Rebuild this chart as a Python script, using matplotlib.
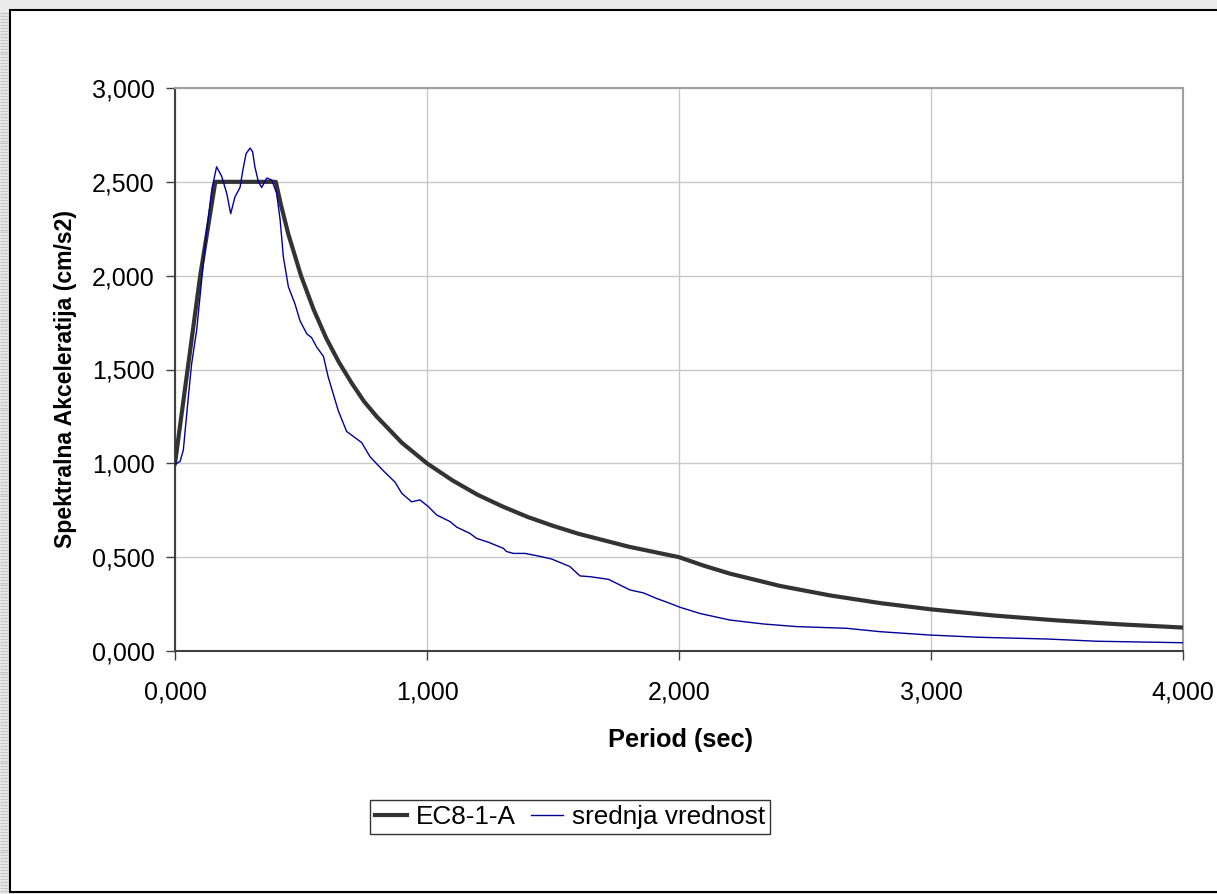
import numpy as np
import matplotlib
matplotlib.use("Agg")
import matplotlib.pyplot as plt
from matplotlib.ticker import FuncFormatter, MultipleLocator
from matplotlib.patches import Rectangle

plt.rcParams['font.family'] = ['Liberation Sans', 'DejaVu Sans']

# EC8 design spectrum
ec8_T = [0.0, 0.05, 0.10, 0.16, 0.40, 0.42, 0.45, 0.50, 0.55, 0.60, 0.65, 0.70, 0.75,
         0.80, 0.85, 0.90, 1.00, 1.10, 1.20, 1.30, 1.40, 1.50, 1.60, 1.80, 2.00, 2.10,
         2.20, 2.40, 2.60, 2.80, 3.00, 3.25, 3.50, 3.75, 4.00]
ec8_Sa = [1.0, 1.50, 2.00, 2.50, 2.50, 2.38, 2.22, 2.00, 1.82, 1.667, 1.54, 1.43, 1.33,
          1.25, 1.18, 1.11, 1.00, 0.91, 0.833, 0.77, 0.714, 0.667, 0.625, 0.556, 0.50,
          0.454, 0.413, 0.347, 0.296, 0.255, 0.222, 0.189, 0.163, 0.142, 0.125]

# mean spectrum ("srednja vrednost")
mean_T = [0.0, 0.007, 0.02, 0.033, 0.053, 0.066, 0.086, 0.106, 0.126, 0.146, 0.165, 0.185,
          0.205, 0.221, 0.238, 0.258, 0.269, 0.282, 0.298, 0.308, 0.317, 0.331, 0.344,
          0.364, 0.384, 0.403, 0.417, 0.43, 0.45, 0.476, 0.496, 0.523, 0.542, 0.562, 0.589,
          0.608, 0.628, 0.648, 0.681, 0.721, 0.741, 0.774, 0.827, 0.873, 0.90, 0.939, 0.972,
          1.005, 1.038, 1.091, 1.118, 1.17, 1.197, 1.243, 1.303, 1.316, 1.343, 1.389, 1.435,
          1.495, 1.567, 1.607, 1.647, 1.72, 1.806, 1.858, 1.911, 1.964, 2.004, 2.083, 2.202,
          2.335, 2.467, 2.665, 2.798, 2.996, 3.194, 3.459, 3.658, 4.0]
mean_Sa = [1.0, 1.0, 1.01, 1.07, 1.355, 1.53, 1.71, 1.98, 2.24, 2.46, 2.58, 2.53, 2.44,
           2.33, 2.42, 2.47, 2.56, 2.65, 2.68, 2.66, 2.58, 2.50, 2.47, 2.52, 2.51, 2.44,
           2.30, 2.10, 1.94, 1.85, 1.76, 1.69, 1.67, 1.62, 1.57, 1.46, 1.37, 1.28, 1.17,
           1.13, 1.11, 1.035, 0.96, 0.90, 0.84, 0.795, 0.805, 0.77, 0.725, 0.69, 0.66,
           0.627, 0.60, 0.58, 0.547, 0.53, 0.52, 0.52, 0.508, 0.49, 0.45, 0.40, 0.396,
           0.382, 0.325, 0.31, 0.28, 0.254, 0.233, 0.20, 0.165, 0.144, 0.13, 0.121, 0.103,
           0.085, 0.073, 0.064, 0.052, 0.044]

W, H = 1217, 894
fig = plt.figure(figsize=(W / 100, H / 100), dpi=100)
fig.patch.set_facecolor('#ececec')

# chart area (white with black frame), like the Excel chart object
fig.patches.append(Rectangle((10 / W, 2 / H), 1.2, 1 - 12 / H, transform=fig.transFigure,
                             facecolor='white', edgecolor='black', linewidth=1.5, zorder=-10))
# striped sheet strip on the left
strip = fig.add_axes([0, 0, 9 / W, 1 - 10 / H])
strip.set_xlim(0, 1)
strip.set_ylim(0, H)
strip.hlines(np.arange(0, H, 3), 0, 1, color='#c8c8c8', linewidth=1)
strip.set_facecolor('white')
strip.axis('off')

ax = fig.add_axes([175 / W, 1 - 651 / H, (1183 - 175) / W, (651 - 88) / H])
ax.plot(ec8_T, ec8_Sa, color='#333333', linewidth=3, label='EC8-1-A', zorder=3,
        solid_joinstyle='round')
ax.plot(mean_T, mean_Sa, color='#000099', linewidth=1, label='srednja vrednost', zorder=4,
        solid_joinstyle='round')

ax.set_xlim(0, 4)
ax.set_ylim(0, 3)
ax.xaxis.set_major_locator(MultipleLocator(1))
ax.yaxis.set_major_locator(MultipleLocator(0.5))
fmt = FuncFormatter(lambda v, p: f"{v:.3f}".replace('.', ','))
ax.xaxis.set_major_formatter(fmt)
ax.yaxis.set_major_formatter(fmt)
ax.grid(True, color='#c8c8c8', linewidth=1)
ax.set_axisbelow(True)
ax.tick_params(direction='out', length=6.5, width=1, color='#404040', labelsize=18)
ax.tick_params(axis='x', pad=15)
ax.tick_params(axis='y', pad=8)
for s in ['left', 'bottom']:
    ax.spines[s].set_color('#404040')
    ax.spines[s].set_linewidth(1.5)
for s in ['top', 'right']:
    ax.spines[s].set_color('#a0a0a0')
    ax.spines[s].set_linewidth(1.5)

fig.text(680 / W, 1 - 740 / H, 'Period (sec)', ha='center', va='center',
         fontsize=18.3, fontweight='bold')
fig.text(66 / W, 1 - 379 / H, 'Spektralna Akceleratija (cm/s2)', ha='center', va='center',
         rotation=90, fontsize=16.6, fontweight='bold')

leg = fig.legend(loc='center', bbox_to_anchor=(570 / W, 1 - 817 / H), ncol=2,
                 fontsize=18.8, frameon=True, fancybox=False, borderpad=0.2,
                 handlelength=1.2, handletextpad=0.35, columnspacing=0.6,
                 borderaxespad=0)
leg.get_frame().set_edgecolor('black')
leg.get_frame().set_linewidth(1)

fig.savefig('out.png', dpi=100, facecolor=fig.get_facecolor())
